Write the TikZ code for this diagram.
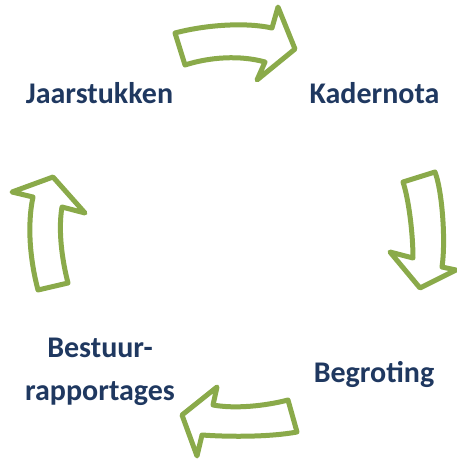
\documentclass[tikz,border=0pt]{standalone}
\usepackage{fontspec}
\setmainfont{Carlito}
\definecolor{cyclegreen}{RGB}{138,170,74}
\definecolor{stagenavy}{RGB}{31,56,96}
\tikzset{
  cyclearrow/.style={draw=cyclegreen, line width=5pt, line join=round, fill=white},
  stage/.style={text=stagenavy, font=\fontsize{30}{43}\selectfont\bfseries, inner sep=0pt, anchor=base, align=center}
}
\begin{document}
\begin{tikzpicture}[x=1pt,y=-1pt]
  \useasboundingbox (0,0) rectangle (457,459);

  % stage labels
  \node[stage] (jaar) at (99.5,103) {Jaarstukken};
  \node[stage] (kader) at (374.5,103) {Kadernota};
  \node[stage] (begr) at (374,382) {Begroting};
  \node[stage] (bestuur) at (100,400) {Bestuur-\\rapportages};

  % top arrow: Jaarstukken -> Kadernota
  \draw[cyclearrow] (175,33) .. controls (205,25) and (245,22) .. (272,28)
    -- (278,7) -- (295,49) -- (257,80) -- (265,62)
    .. controls (240,55) and (210,57) .. (185,65) -- cycle;

  % right arrow: Kadernota -> Begroting
  \draw[cyclearrow] (403,182) -- (435,172)
    .. controls (442,190) and (446,240) .. (442,267)
    -- (456,270) -- (420,288) -- (390,252) -- (413,258)
    .. controls (413,235) and (409,200) .. (403,182) -- cycle;

  % bottom arrow: Begroting -> Bestuurrapportages
  \draw[cyclearrow] (288,400) -- (297,432)
    .. controls (270,437) and (230,437) .. (202,435)
    -- (197,456) -- (182,415) -- (217,387) -- (213,405)
    .. controls (235,409) and (265,406) .. (288,400) -- cycle;

  % left arrow: Bestuurrapportages -> Jaarstukken
  \draw[cyclearrow] (38,290) -- (68,283)
    .. controls (62,260) and (58,230) .. (62,207)
    -- (85,213) -- (53,177) -- (12,192) -- (33,197)
    .. controls (27,225) and (30,260) .. (38,290) -- cycle;
\end{tikzpicture}
\end{document}
